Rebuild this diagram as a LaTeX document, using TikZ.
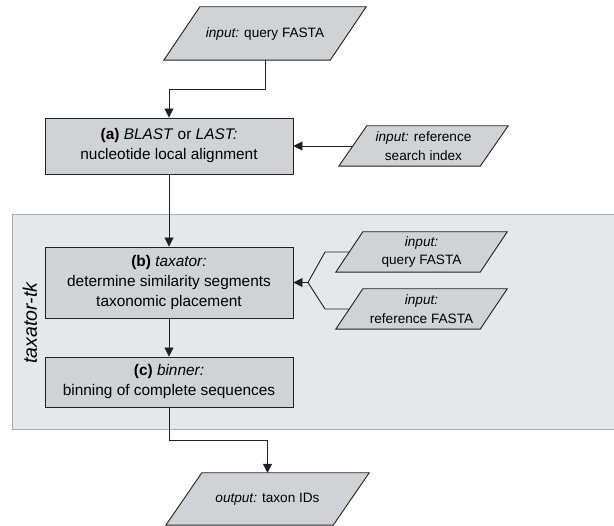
\documentclass[tikz,border=0pt]{standalone}
\usepackage{fontspec}
\setmainfont{Liberation Sans}
\usetikzlibrary{arrows.meta}
\pgfdeclarelayer{bgzero}
\pgfdeclarelayer{bgone}
\pgfsetlayers{bgzero,bgone,main}
\definecolor{boxgrey}{HTML}{D1D2D4}
\definecolor{contgrey}{HTML}{E6E7E8}
\definecolor{contline}{HTML}{A7A9AC}
\definecolor{inkc}{HTML}{231F20}
\tikzset{
  procbox/.style={draw=inkc, line width=0.9pt, fill=boxgrey, minimum width=248pt, align=center, inner sep=0pt, font=\fontsize{15.4}{20}\selectfont},
  paratext/.style={inner sep=0pt, align=center, font=\fontsize{13.6}{18.5}\selectfont},
  parashape/.style={draw=inkc, line width=0.9pt, fill=boxgrey},
  conn/.style={draw=inkc, line width=0.9pt},
  arr/.style={conn, -{Triangle[length=9pt,width=9pt]}}
}
\newcommand{\parallelo}[2]{%
  \begin{pgfonlayer}{bgone}
  \path[parashape] (#1.north west) -- ([xshift=#2]#1.north east) -- (#1.south east) -- ([xshift=-#2]#1.south west) -- cycle;
  \end{pgfonlayer}}
\begin{document}
\begin{tikzpicture}[x=1pt,y=-1pt]
\useasboundingbox (0,0) rectangle (614,526);
% container
\begin{pgfonlayer}{bgzero}
\path[fill=contgrey, draw=contline, line width=1pt] (12,215) rectangle (640,430);
\end{pgfonlayer}
\node[rotate=90, font=\fontsize{19.5}{22}\selectfont\itshape] (tk) at (30,323) {taxator-tk};

% nodes
\node[paratext, minimum width=130pt, minimum height=53pt] (q1) at (265,33.5) {\textit{input:} query FASTA};
\parallelo{q1}{36pt}
\node[procbox, minimum height=56pt] (a) at (169,146) {\textbf{(a)} \textit{BLAST} or \textit{LAST:}\\nucleotide local alignment};
\node[paratext, minimum width=113pt, minimum height=40pt] (ri) at (423.5,146) {\textit{input:} reference\\search index};
\parallelo{ri}{28pt}
\node[procbox, minimum height=71pt] (b) at (169,282.5) {\textbf{(b)} \textit{taxator:}\\determine similarity segments\\taxonomic placement};
\node[paratext, minimum width=117pt, minimum height=40pt] (qf) at (421.5,252) {\textit{input:}\\query FASTA};
\parallelo{qf}{27pt}
\node[paratext, minimum width=117pt, minimum height=40pt] (rf) at (421.5,309) {\textit{input:}\\reference FASTA};
\parallelo{rf}{27pt}
\node[procbox, minimum height=50pt] (c) at (169,382) {\textbf{(c)} \textit{binner:}\\binning of complete sequences};
\node[paratext, minimum width=131pt, minimum height=52pt] (out) at (267.5,499) {\textit{output:} taxon IDs};
\parallelo{out}{36pt}

% connectors
\coordinate (j) at (308,282.5);
\coordinate (k1) at (325,252);
\coordinate (k2) at (325,309);
\draw[arr] (q1.south) -- ++(0,29) -| (a.north);
\draw[arr] ([xshift=-14pt]ri.west) -- (a.east);
\draw[arr] (a.south) -- (b.north);
\draw[conn] ([xshift=-13.5pt]qf.west) -- (k1) -- (j);
\draw[conn] ([xshift=-13.5pt]rf.west) -- (k2) -- (j);
\draw[arr] (j) -- (b.east);
\draw[arr] (b.south) -- (c.north);
\draw[arr] (c.south) -- ++(0,33) -| (out.north);
\end{tikzpicture}
\end{document}
